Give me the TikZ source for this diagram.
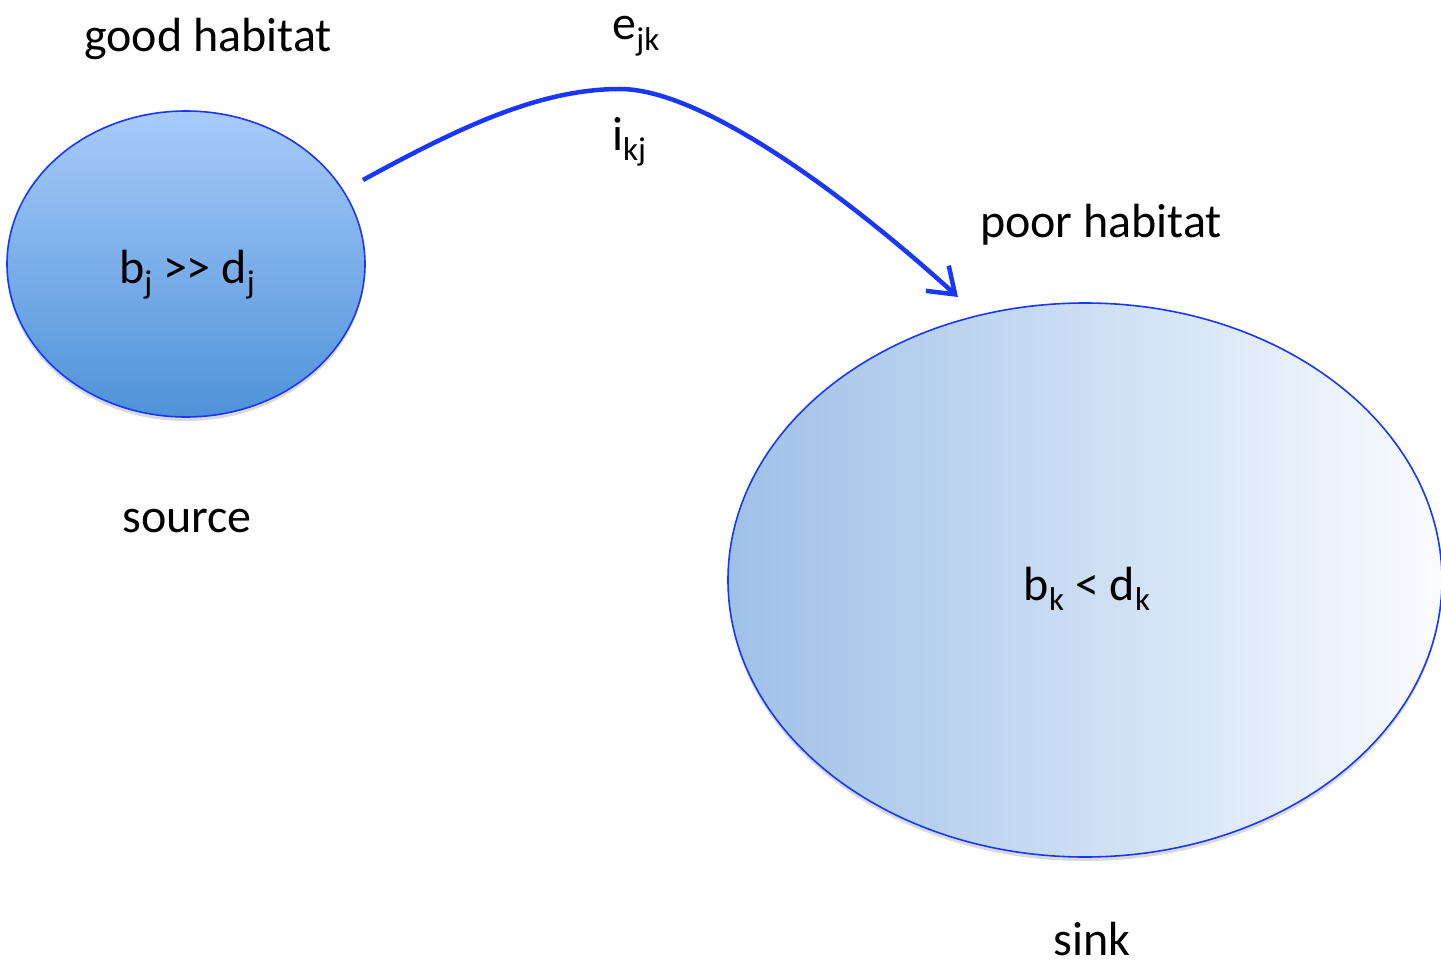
\documentclass[tikz,border=0pt]{standalone}
\usepackage{fontspec}
\setmainfont{Carlito}
\usetikzlibrary{shapes.geometric,arrows.meta,shadows}
\definecolor{edge}{RGB}{25,55,250}
\definecolor{srctop}{RGB}{168,203,251}
\definecolor{srcbot}{RGB}{78,146,216}
\definecolor{sinkl}{RGB}{158,192,232}
\definecolor{sinkr}{RGB}{250,252,255}
\newcommand\sbs[1]{\raisebox{-0.22em}{\fontsize{33}{33}\selectfont #1}}
\tikzset{
  habitat/.style={ellipse, draw=edge, line width=1.6pt, inner sep=0pt,
    drop shadow={shadow xshift=0pt, shadow yshift=-4pt, opacity=0.25, fill=black!60}},
  lbl/.style={anchor=base, inner sep=0pt, font=\fontsize{48}{58}\selectfont},
  flow/.style={draw=edge, line width=4.5pt, -{Straight Barb[length=24pt,width=34pt]}}
}
\begin{document}
\begin{tikzpicture}[x=1pt,y=-1pt]
\useasboundingbox (0,0) rectangle (1441,966);
\node[habitat, minimum width=358, minimum height=306, top color=srctop, bottom color=srcbot] (src) at (186,264) {};
\node[habitat, minimum width=714, minimum height=554, left color=sinkl, right color=sinkr] (sink) at (1085,580) {};
\node[lbl] (good) at (208,52) {good habitat};
\node[lbl] (source) at (187,532) {source};
\node[lbl] (poor) at (1101,237) {poor habitat};
\node[lbl] (sinklbl) at (1092,955) {sink};
\node[lbl] (ejk) at (636,40) {e\sbs{jk}};
\node[lbl] (ikj) at (629,150) {i\sbs{kj}};
\node[lbl] (bj) at (187,283) {b\sbs{j} >{}> d\sbs{j}};
\node[lbl] (bk) at (1087,600) {b\sbs{k} < d\sbs{k}};
\coordinate (start) at (363,180);
\coordinate (peak) at (620,89);
\coordinate (tip) at (958,297);
\draw[flow] (start) .. controls (460,127) and (540,89) .. (peak)
  .. controls (700,89) and (840,190) .. (tip);
\end{tikzpicture}
\end{document}
